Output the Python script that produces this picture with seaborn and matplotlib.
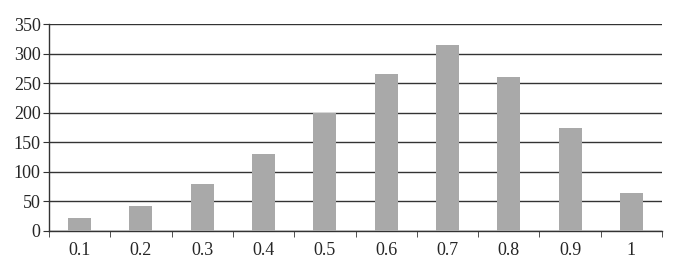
import matplotlib
matplotlib.use("Agg")
import matplotlib.pyplot as plt
import seaborn as sns
import pandas as pd
import numpy as np

categories = ["0.1", "0.2", "0.3", "0.4", "0.5", "0.6", "0.7", "0.8", "0.9", "1"]
values = [22, 42, 80, 130, 200, 265, 315, 260, 175, 65]
yticks = [0, 50, 100, 150, 200, 250, 300, 350]

sns.set_style("white")
plt.rcParams['font.family'] = ['Liberation Serif', 'DejaVu Serif']

df = pd.DataFrame({"cat": categories, "val": values})

fig = plt.figure(figsize=(6.73, 2.63), dpi=100)
ax = fig.add_axes([0.0728, 0.1217, 0.9109, 0.787])
sns.barplot(data=df, x="cat", y="val", order=categories, color="#a9a9a9",
            saturation=1, width=0.375, ax=ax, zorder=3, linewidth=0)

ax.set_xlim(-0.5, len(categories) - 0.5)
ax.set_ylim(0, 350)
ax.set_yticks(yticks)
ax.set_yticklabels([str(t) for t in yticks], fontsize=13)
ax.set_xlabel("")
ax.set_ylabel("")
ax.yaxis.grid(True, color="#333333", linewidth=1.0, zorder=0)
ax.set_axisbelow(True)

for s in ["top", "right"]:
    ax.spines[s].set_visible(False)
ax.spines["left"].set_color("#333333")
ax.spines["bottom"].set_color("#333333")
ax.spines["left"].set_linewidth(1.0)
ax.spines["bottom"].set_linewidth(1.0)

ax.set_xticks(range(len(categories)))
ax.set_xticklabels(categories, fontsize=13)
ax.set_xticks(np.arange(-0.5, len(categories), 1.0), minor=True)
ax.tick_params(axis="x", which="minor", length=4, color="#333333", direction="out")
ax.tick_params(axis="y", which="major", length=4, color="#333333", direction="out", pad=2)
ax.tick_params(bottom=True, left=True, which="both")
ax.tick_params(axis="x", which="major", length=0, pad=8)

fig.savefig("out.png", dpi=100)
